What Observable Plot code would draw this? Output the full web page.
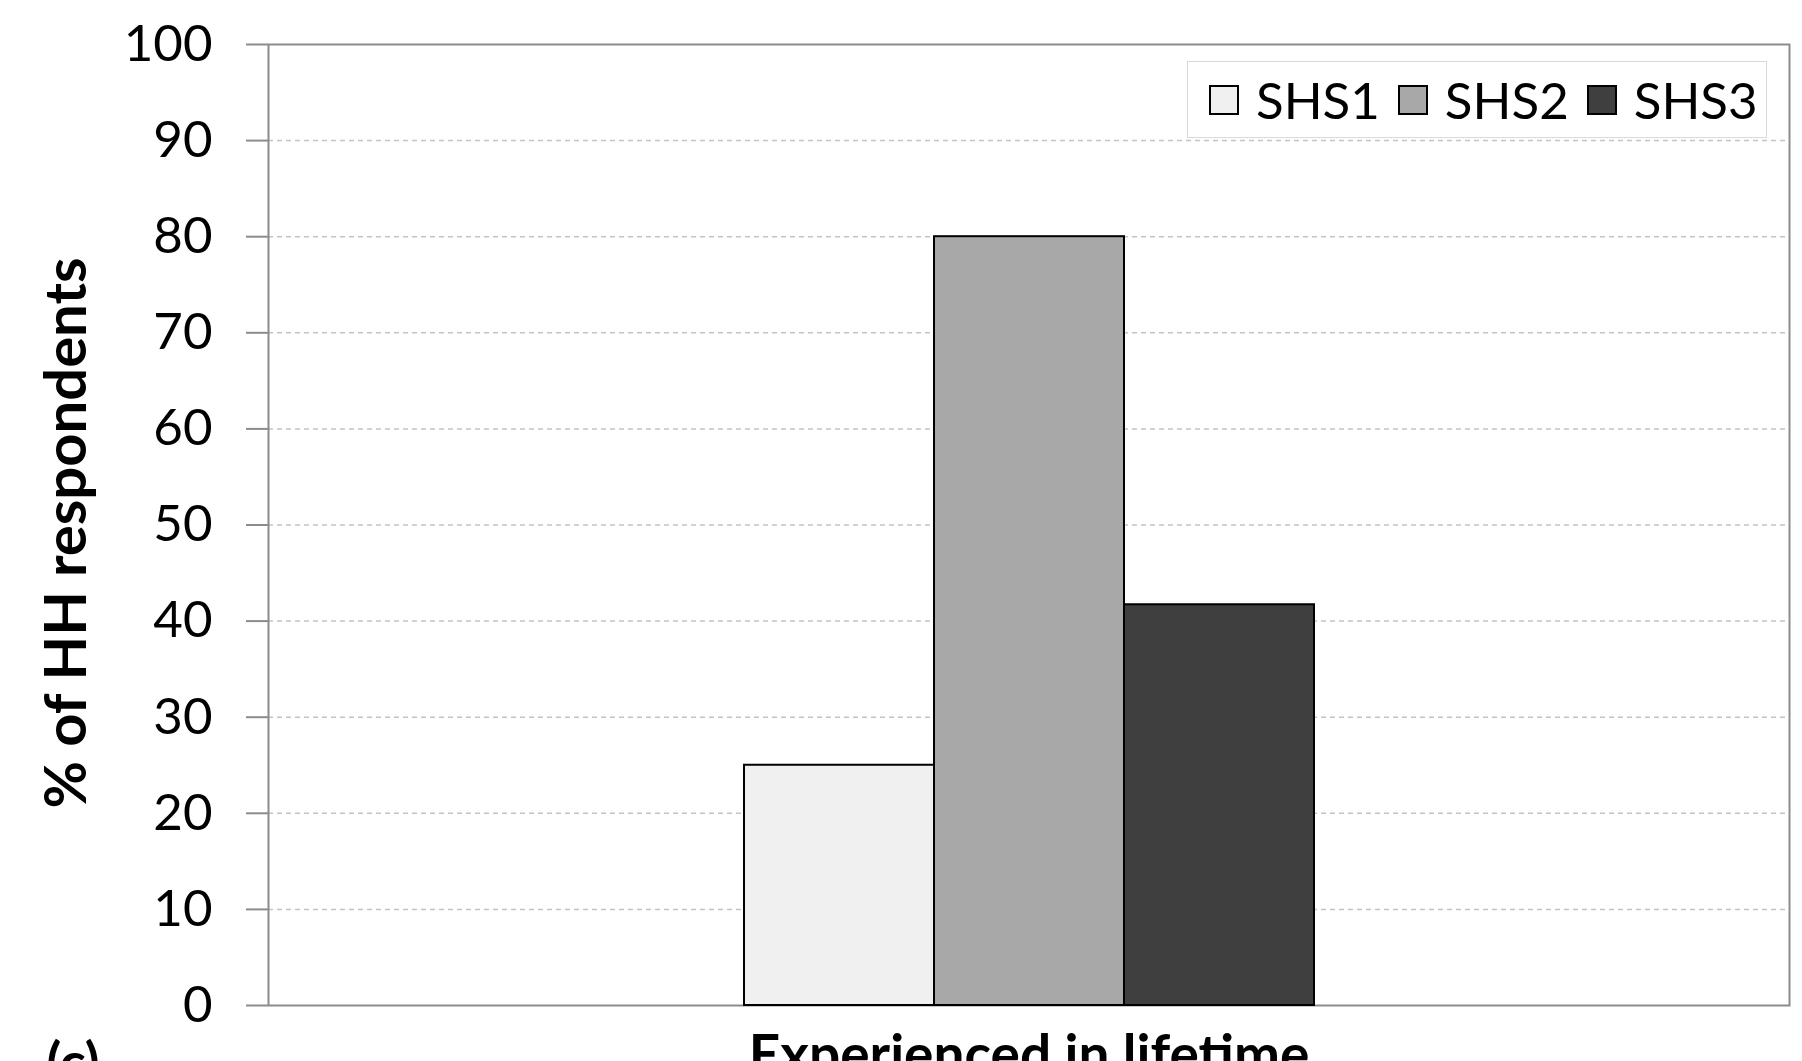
<!DOCTYPE html>
<html>
<head>
<meta charset="utf-8">
<script src="https://cdn.jsdelivr.net/npm/d3@7"></script>
<script src="https://cdn.jsdelivr.net/npm/@observablehq/plot@0.6"></script>
<style>
  html, body { margin: 0; padding: 0; background: #fff; overflow: hidden; }
  #wrap { position: relative; width: 1802px; height: 1061px; font-family: Lato, sans-serif; }
  #legend { position: absolute; left: 1187px; top: 61px; width: 580px; height: 77px;
    border: 1px solid #d9d9d9; background: #fff; display: flex; align-items: center; box-sizing: border-box; padding-left: 21px; }
  .item { display: flex; align-items: center; margin-right: 18px; }
  .sw { width: 30px; height: 30px; border: 2px solid #000; margin-right: 17px; box-sizing: border-box; }
  .lab { font-size: 51px; color: #000; line-height: 1; }
</style>
</head>
<body>
<div id="wrap"></div>
<script>
const categories = ["Experienced in lifetime"];
const series = ["SHS1", "SHS2", "SHS3"];
const values = [25, 80, 41.7];
const colors = ["#f0f0f0", "#a8a8a8", "#3f3f3f"];
const yTicks = [0, 10, 20, 30, 40, 50, 60, 70, 80, 90, 100];
const yLabel = "% of HH respondents";
const panelTag = "(c)";

const data = series.map((s, i) => ({category: categories[0], series: s, value: values[i]}));

const chart = Plot.plot({
  width: 1802,
  height: 1061,
  marginLeft: 268,
  marginRight: 13,
  marginTop: 44,
  marginBottom: 56,
  style: {fontFamily: "Lato, sans-serif", background: "#fff", overflow: "visible"},
  x: {domain: series, paddingInner: 0, paddingOuter: 2.5, axis: null},
  y: {domain: [0, 100], ticks: yTicks},
  color: {domain: series, range: colors},
  marks: [
    Plot.gridY(yTicks.filter(t => t > 0 && t < 100), {stroke: "#c4c4c4", strokeOpacity: 1, strokeDasharray: "5,4", strokeWidth: 1.5}),
    Plot.frame({stroke: "#8c8c8c", strokeWidth: 2}),
    Plot.barY(data, {x: "series", y: "value", fill: "series", stroke: "#000", strokeWidth: 2}),
    Plot.axisY({ticks: yTicks, tickSize: 22, tickPadding: 34, stroke: "#8c8c8c", strokeWidth: 2, fill: "#000", fontSize: 51, label: null}),
    Plot.text([yLabel], {text: d => d, frameAnchor: "left", textAnchor: "middle", rotate: -90, dx: -201, dy: 8, fontSize: 58, fontWeight: "bold", fill: "#000"}),
    Plot.text(categories, {text: d => d, frameAnchor: "bottom", lineAnchor: "top", dy: 29, fontSize: 55, fontWeight: "bold", fill: "#000"}),
    Plot.text([panelTag], {text: d => d, frameAnchor: "bottom-left", textAnchor: "start", lineAnchor: "top", dx: -222, dy: 37, fontSize: 54, fontWeight: "bold", fill: "#000"})
  ]
});
document.getElementById("wrap").appendChild(chart);

const legend = document.createElement("div");
legend.id = "legend";
series.forEach((s, i) => {
  const item = document.createElement("div");
  item.className = "item";
  const sw = document.createElement("div");
  sw.className = "sw";
  sw.style.background = colors[i];
  const lab = document.createElement("span");
  lab.className = "lab";
  lab.textContent = s;
  item.appendChild(sw);
  item.appendChild(lab);
  legend.appendChild(item);
});
document.getElementById("wrap").appendChild(legend);
</script>
</body>
</html>
